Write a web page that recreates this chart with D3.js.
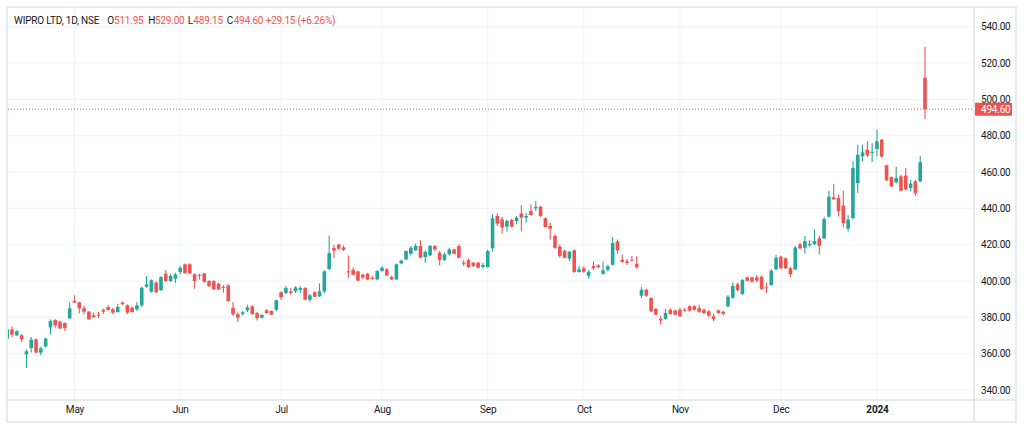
<!DOCTYPE html>
<html>
<head>
<meta charset="utf-8">
<script src="https://cdn.jsdelivr.net/npm/d3@7"></script>
<style>
  body { margin: 0; background: #fff; }
  svg text { font-family: Roboto, "Liberation Sans", sans-serif; font-size: 10px; letter-spacing: -0.2px; }
</style>
</head>
<body>
<svg id="chart" width="1024" height="431"></svg>
<script>
// trading days on screen (NSE, Apr 2023 - Jan 2024)
const dates = [
  "2023-04-10","2023-04-11","2023-04-12","2023-04-13","2023-04-17","2023-04-18","2023-04-19","2023-04-20","2023-04-21","2023-04-24","2023-04-25","2023-04-26","2023-04-27","2023-04-28",
  "2023-05-02","2023-05-03","2023-05-04","2023-05-05","2023-05-08","2023-05-09","2023-05-10","2023-05-11","2023-05-12","2023-05-15","2023-05-16","2023-05-17","2023-05-18","2023-05-19","2023-05-22","2023-05-23","2023-05-24","2023-05-25","2023-05-26","2023-05-29","2023-05-30","2023-05-31",
  "2023-06-01","2023-06-02","2023-06-05","2023-06-06","2023-06-07","2023-06-08","2023-06-09","2023-06-12","2023-06-13","2023-06-14","2023-06-15","2023-06-16","2023-06-19","2023-06-20","2023-06-21","2023-06-22","2023-06-23","2023-06-26","2023-06-27","2023-06-28","2023-06-30",
  "2023-07-03","2023-07-04","2023-07-05","2023-07-06","2023-07-07","2023-07-10","2023-07-11","2023-07-12","2023-07-13","2023-07-14","2023-07-17","2023-07-18","2023-07-19","2023-07-20","2023-07-21","2023-07-24","2023-07-25","2023-07-26","2023-07-27","2023-07-28","2023-07-31",
  "2023-08-01","2023-08-02","2023-08-03","2023-08-04","2023-08-07","2023-08-08","2023-08-09","2023-08-10","2023-08-11","2023-08-14","2023-08-16","2023-08-17","2023-08-18","2023-08-21","2023-08-22","2023-08-23","2023-08-24","2023-08-25","2023-08-28","2023-08-29","2023-08-30","2023-08-31",
  "2023-09-01","2023-09-04","2023-09-05","2023-09-06","2023-09-07","2023-09-08","2023-09-11","2023-09-12","2023-09-13","2023-09-14","2023-09-15","2023-09-18","2023-09-20","2023-09-21","2023-09-22","2023-09-25","2023-09-26","2023-09-27","2023-09-28","2023-09-29",
  "2023-10-03","2023-10-04","2023-10-05","2023-10-06","2023-10-09","2023-10-10","2023-10-11","2023-10-12","2023-10-13","2023-10-16","2023-10-17","2023-10-18","2023-10-19","2023-10-20","2023-10-23","2023-10-25","2023-10-26","2023-10-27","2023-10-30","2023-10-31",
  "2023-11-01","2023-11-02","2023-11-03","2023-11-06","2023-11-07","2023-11-08","2023-11-09","2023-11-10","2023-11-12","2023-11-13","2023-11-15","2023-11-16","2023-11-17","2023-11-20","2023-11-21","2023-11-22","2023-11-23","2023-11-24","2023-11-28","2023-11-29","2023-11-30",
  "2023-12-01","2023-12-04","2023-12-05","2023-12-06","2023-12-07","2023-12-08","2023-12-11","2023-12-12","2023-12-13","2023-12-14","2023-12-15","2023-12-18","2023-12-19","2023-12-20","2023-12-21","2023-12-22","2023-12-26","2023-12-27","2023-12-28","2023-12-29",
  "2024-01-01","2024-01-02","2024-01-03","2024-01-04","2024-01-05","2024-01-08","2024-01-09","2024-01-10","2024-01-11","2024-01-12","2024-01-15"
];

const open = [
  368.3,373.4,370.1,370.1,359.6,363.1,367.9,360.6,363.9,374.5,378.5,377.6,376.9,379.4,
  389.0,388.3,385.0,383.1,381.1,381.5,384.0,385.7,384.4,382.9,388.1,386.6,385.3,384.4,386.6,396.9,394.1,399.1,395.0,404.0,400.0,401.3,
  405.0,409.2,409.2,403.7,402.8,404.2,400.0,400.0,398.5,396.1,397.6,385.3,381.7,381.9,383.9,386.1,382.4,379.8,383.9,383.5,384.2,
  393.8,393.4,394.3,394.3,395.0,396.1,389.7,393.8,391.6,394.3,406.6,418.2,420.0,418.5,405.3,406.2,405.3,403.5,404.0,401.8,400.9,
  405.5,406.4,402.2,400.9,409.7,411.9,415.0,416.9,419.3,413.2,414.1,419.3,415.6,411.6,414.7,417.4,419.3,410.1,411.4,410.1,410.1,407.7,
  407.7,418.0,435.8,433.9,429.9,433.6,433.0,437.2,434.9,438.5,440.0,440.9,434.5,430.3,424.8,418.9,416.5,412.3,416.9,405.0,
  407.0,402.8,408.3,408.6,404.0,406.2,409.0,421.8,411.7,410.8,411.7,409.4,391.9,395.2,390.6,384.6,379.1,379.1,384.2,383.7,
  384.2,384.2,386.1,386.1,385.0,384.2,383.3,380.6,383.9,383.1,386.0,390.8,398.2,392.9,402.0,402.0,402.0,402.4,396.5,397.8,406.4,
  413.4,412.5,407.0,406.4,420.2,418.3,419.6,420.2,423.5,423.5,435.4,446.1,445.6,441.6,428.8,434.7,453.9,468.6,472.3,470.5,
  472.7,477.8,463.7,457.2,454.3,457.6,458.0,451.2,454.9,454.9,511.95
];
const high = [
  374.0,374.9,373.0,370.8,362.4,369.2,368.3,363.9,368.7,378.9,379.0,378.0,377.1,388.3,
  392.1,388.6,386.2,383.5,382.6,383.0,384.8,386.8,385.3,387.5,388.8,387.2,385.9,388.4,396.9,402.7,401.0,400.0,402.7,406.0,404.2,404.6,
  408.3,409.7,409.7,404.2,404.0,404.6,400.4,400.4,399.1,397.6,398.2,388.4,382.6,383.5,386.9,386.6,382.9,381.8,384.4,383.9,389.7,
  394.3,397.4,396.1,397.1,397.2,396.5,392.8,394.3,398.7,405.9,425.1,420.0,420.6,419.6,414.1,407.5,405.7,404.0,404.6,402.7,405.9,
  408.3,407.0,403.1,409.7,411.9,416.9,419.3,420.6,422.4,416.9,419.8,419.8,416.5,415.6,418.3,417.8,420.2,411.4,412.5,410.5,410.5,410.1,
  417.4,436.7,437.3,435.2,433.9,434.3,435.8,441.7,437.6,442.2,444.0,441.3,434.9,432.1,425.7,420.2,417.4,416.5,417.4,408.3,
  408.1,405.9,410.7,409.2,410.8,409.0,424.2,422.8,414.5,412.1,413.8,413.6,396.7,395.8,391.0,385.1,380.9,384.6,384.8,384.2,
  385.1,385.1,386.6,386.8,386.9,384.8,384.2,382.0,384.2,383.7,392.3,399.2,399.2,401.1,402.4,402.4,403.3,403.0,399.2,406.6,414.3,
  413.9,413.0,407.9,419.3,421.1,424.8,422.6,428.4,424.8,435.4,449.7,453.4,447.6,449.7,436.2,465.9,475.0,475.0,476.9,475.8,
  483.3,478.2,464.0,457.6,462.8,458.5,462.2,455.8,455.8,469.0,529.0
];
const low = [
  367.5,369.2,369.7,366.4,352.1,360.6,360.2,359.1,363.5,370.6,374.3,373.4,372.5,379.4,
  388.0,382.2,381.7,378.7,379.8,379.6,381.8,383.7,381.7,382.6,386.8,381.7,382.6,383.5,385.7,396.3,393.6,393.2,394.5,399.6,399.4,398.9,
  403.7,404.0,403.9,395.8,400.9,399.1,396.7,395.0,395.0,393.6,388.4,380.7,377.4,380.9,382.9,381.5,378.3,379.4,382.0,381.1,383.3,
  389.7,392.8,392.5,393.4,393.4,389.4,388.3,391.0,391.2,393.4,405.9,412.7,416.9,416.5,401.7,403.1,399.8,401.3,400.4,400.4,400.4,
  405.1,402.8,400.6,400.4,409.2,411.4,414.1,416.5,412.5,410.1,413.8,416.5,408.6,411.0,414.1,414.7,412.5,408.3,407.0,407.7,406.9,406.9,
  407.3,416.1,430.3,426.2,427.2,429.4,431.2,427.2,432.1,436.0,438.5,435.2,429.4,422.9,417.8,412.8,412.5,411.0,404.6,404.6,
  404.6,401.3,406.2,407.0,403.5,405.3,408.4,415.0,410.0,408.8,411.0,406.9,390.6,391.4,382.8,381.1,376.0,378.7,381.5,381.1,
  380.2,383.1,383.1,383.7,382.4,381.8,380.2,378.0,382.0,380.9,385.5,390.1,394.1,392.3,399.6,399.1,399.3,395.0,393.4,397.4,406.0,
  406.6,406.6,402.2,406.0,417.4,415.2,418.9,419.8,414.7,423.1,434.9,444.8,435.5,429.5,427.3,433.8,448.4,465.9,468.3,465.5,
  468.6,467.7,454.9,451.7,453.9,449.4,449.9,449.4,447.0,454.3,489.15
];
const close = [
  373.4,370.5,372.3,367.9,361.3,367.7,360.6,362.9,368.3,378.0,375.6,373.9,374.1,385.0,
  388.1,385.0,383.1,378.9,380.2,381.1,383.1,384.0,382.6,385.7,387.3,382.6,382.9,386.6,396.3,398.2,400.4,393.9,402.2,400.0,402.8,403.7,
  407.3,404.2,404.2,400.0,403.3,399.6,397.2,395.4,395.4,396.7,389.0,381.7,379.8,382.8,385.5,381.8,379.6,381.3,382.4,381.5,389.4,
  391.0,396.1,393.4,396.5,396.1,389.7,392.1,391.4,394.3,405.3,415.4,416.7,417.8,417.2,404.8,403.5,400.2,402.0,400.9,401.5,405.5,
  407.3,403.1,400.9,409.2,411.2,416.5,418.3,419.3,412.8,416.0,419.3,417.4,411.6,414.7,417.4,415.0,412.8,409.5,407.7,408.3,407.3,408.8,
  416.5,434.5,431.6,429.4,433.0,429.9,434.9,434.9,435.8,436.3,440.9,435.8,429.7,428.8,418.3,413.8,412.8,416.1,405.0,406.4,
  405.1,405.1,407.0,407.7,405.9,408.1,420.9,416.9,410.5,409.9,411.2,407.5,395.2,391.9,383.3,381.5,378.3,382.4,381.8,381.5,
  380.6,383.7,383.7,384.2,383.1,382.4,380.9,379.1,382.4,382.0,391.4,397.2,395.0,400.6,400.2,399.6,400.2,395.6,396.1,405.7,412.8,
  407.0,407.0,403.7,418.5,418.0,422.0,420.4,422.0,419.3,434.1,446.4,445.0,438.4,431.8,433.8,462.2,469.5,470.8,469.2,471.2,
  476.9,468.6,455.4,452.1,456.7,449.7,450.3,453.6,448.4,465.4,494.6
];

// axis ticks
const priceTicks = [340, 360, 380, 400, 420, 440, 460, 480, 500, 520, 540];
const monthTickDates = ["2023-05-02","2023-06-01","2023-07-03","2023-08-01","2023-09-01","2023-10-03","2023-11-01","2023-12-01","2024-01-01"];
const monthTickLabels = ["May","Jun","Jul","Aug","Sep","Oct","Nov","Dec","2024"];

const upColor = "#26a69a", downColor = "#ef5350", textColor = "#131722";
const gridColor = "#f0f3fa", borderColor = "#e0e3eb";

const svg = d3.select("#chart");
const plot = {left: 8, right: 974, top: 8, bottom: 400};

const x = d3.scalePoint().domain(dates).range([7.2, 925.0]);
const y = d3.scaleLinear().domain([340, 540]).range([390.0, 26.7]);

svg.append("rect").attr("width", 1024).attr("height", 431).attr("fill", "#fff");

// grid
svg.append("g").selectAll("line")
  .data(priceTicks)
  .enter().append("line")
  .attr("x1", plot.left).attr("x2", plot.right)
  .attr("y1", d => y(d)).attr("y2", d => y(d))
  .attr("stroke", gridColor);

svg.append("g").selectAll("line")
  .data(monthTickDates)
  .enter().append("line")
  .attr("x1", d => x(d)).attr("x2", d => x(d))
  .attr("y1", plot.top).attr("y2", plot.bottom)
  .attr("stroke", gridColor);

svg.append("clipPath").attr("id", "plotClip")
  .append("rect")
  .attr("x", plot.left).attr("y", plot.top)
  .attr("width", plot.right - plot.left).attr("height", plot.bottom - plot.top);

const candles = dates.map((d, i) => ({date: d, o: open[i], h: high[i], l: low[i], c: close[i]}));
const bodyW = 3.6;

const cg = svg.append("g").attr("clip-path", "url(#plotClip)")
  .selectAll("g")
  .data(candles)
  .enter().append("g")
  .attr("fill", d => d.c >= d.o ? upColor : downColor)
  .attr("stroke", d => d.c >= d.o ? upColor : downColor);

cg.append("line")
  .attr("x1", d => x(d.date)).attr("x2", d => x(d.date))
  .attr("y1", d => y(d.h)).attr("y2", d => y(d.l))
  .attr("stroke-width", 1.1);

cg.append("rect")
  .attr("stroke", "none")
  .attr("x", d => x(d.date) - bodyW / 2)
  .attr("width", bodyW)
  .attr("y", d => y(Math.max(d.o, d.c)))
  .attr("height", d => Math.max(1, Math.abs(y(d.o) - y(d.c))));

// last price line
const last = candles[candles.length - 1];
svg.append("line")
  .attr("x1", plot.left).attr("x2", plot.right)
  .attr("y1", y(last.c)).attr("y2", y(last.c))
  .attr("stroke", downColor).attr("stroke-dasharray", "1,2");

// frame and separators
svg.append("rect")
  .attr("x", 7).attr("y", 7).attr("width", 1009).attr("height", 415)
  .attr("fill", "none").attr("stroke", borderColor).attr("stroke-width", 1.5);
svg.append("line").attr("x1", plot.right).attr("x2", plot.right).attr("y1", 7).attr("y2", 422)
  .attr("stroke", borderColor).attr("stroke-width", 1.5);
svg.append("line").attr("x1", 7).attr("x2", 1016).attr("y1", plot.bottom).attr("y2", plot.bottom)
  .attr("stroke", borderColor).attr("stroke-width", 1.5);

// price axis
const yAxis = svg.append("g")
  .attr("transform", `translate(${plot.right},0)`)
  .call(d3.axisRight(y).tickValues(priceTicks).tickSize(0).tickPadding(7).tickFormat(d3.format(".2f")));
yAxis.select(".domain").remove();
yAxis.selectAll("text").attr("fill", textColor).attr("font-size", null).attr("font-family", null);

// time axis
const xAxis = svg.append("g")
  .attr("transform", `translate(0,${plot.bottom})`)
  .call(d3.axisBottom(x).tickValues(monthTickDates).tickSize(0).tickPadding(6)
    .tickFormat((d, i) => monthTickLabels[i]));
xAxis.select(".domain").remove();
xAxis.selectAll("text").attr("fill", textColor)
  .style("font-weight", (d, i) => monthTickLabels[i] === "2024" ? "bold" : "normal");

// last price label
const ly = y(last.c);
svg.append("rect")
  .attr("x", 975).attr("y", ly - 6.5).attr("width", 37).attr("height", 13)
  .attr("rx", 1).attr("fill", downColor);
svg.append("text")
  .attr("x", 981).attr("y", ly).attr("dy", "0.35em")
  .attr("fill", "#fff")
  .text(d3.format(".2f")(last.c));

// legend line
const header = [
  {x: 14, t: "WIPRO LTD, 1D, NSE", c: textColor},
  {x: 107.3, t: "O", c: textColor},
  {x: 114, t: d3.format(".2f")(last.o), c: downColor},
  {x: 148.3, t: "H", c: textColor},
  {x: 155, t: d3.format(".2f")(last.h), c: downColor},
  {x: 187.7, t: "L", c: textColor},
  {x: 193.3, t: d3.format(".2f")(last.l), c: downColor},
  {x: 226.7, t: "C", c: textColor},
  {x: 233.7, t: d3.format(".2f")(last.c), c: downColor},
  {x: 265.7, t: "+29.15 (+6.26%)", c: downColor}
];
svg.append("g").selectAll("text")
  .data(header)
  .enter().append("text")
  .attr("x", d => d.x).attr("y", 20).attr("dy", "0.35em")
  .attr("fill", d => d.c)
  .text(d => d.t);
</script>
</body>
</html>
